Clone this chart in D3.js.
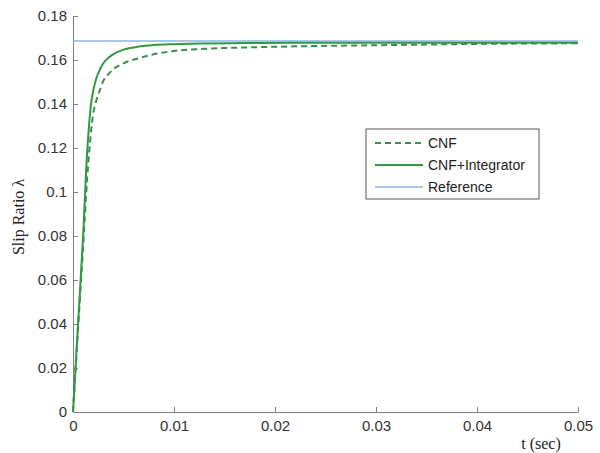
<!DOCTYPE html>
<html>
<head>
<meta charset="utf-8">
<script src="https://cdn.jsdelivr.net/npm/d3@7"></script>
<style>
  body { margin: 0; background: #fff; }
  .tick text { font-family: "Liberation Sans", Arial, sans-serif; font-size: 15px; fill: #333; }
</style>
</head>
<body>
<script>
// Slip ratio step response

const time = [0, 0.0005, 0.001, 0.0014, 0.0016, 0.0018, 0.002, 0.0023, 0.0026, 0.003, 0.0035, 0.004, 0.005, 0.0065, 0.008, 0.01, 0.013, 0.017, 0.022, 0.03, 0.04, 0.05];
const cnf = [0, 0.038, 0.075, 0.106, 0.118, 0.128, 0.1355, 0.1415, 0.1455, 0.1505, 0.1535, 0.1558, 0.1585, 0.1608, 0.1626, 0.1641, 0.1651, 0.1657, 0.1662, 0.1667, 0.1673, 0.1676];
const cnfInt = [0, 0.04, 0.08, 0.118, 0.131, 0.1405, 0.146, 0.1515, 0.155, 0.1585, 0.161, 0.1627, 0.1647, 0.1661, 0.1668, 0.1672, 0.1675, 0.1677, 0.1678, 0.1678, 0.1678, 0.1678];
const refValue = 0.1686;

const xTicks = [0, 0.01, 0.02, 0.03, 0.04, 0.05];
const yTicks = [0, 0.02, 0.04, 0.06, 0.08, 0.1, 0.12, 0.14, 0.16, 0.18];
const legendNames = ["CNF", "CNF+Integrator", "Reference"];

const width = 600, height = 453;

const x = d3.scaleLinear().domain([0, 0.05]).range([73, 578]);
const y = d3.scaleLinear().domain([0, 0.18]).range([412, 16]);

const svg = d3.select("body").append("svg")
  .attr("width", width)
  .attr("height", height);

// axes, ticks point inward
svg.append("g")
  .attr("transform", "translate(0,412)")
  .call(d3.axisBottom(x).tickValues(xTicks).tickFormat(d3.format("~g"))
    .tickSizeInner(-5).tickSizeOuter(0).tickPadding(8))
  .call(g => g.selectAll("line, path").attr("stroke", "#808080"));

svg.append("g")
  .attr("transform", "translate(73,0)")
  .call(d3.axisLeft(y).tickValues(yTicks).tickFormat(d3.format("~g"))
    .tickSizeInner(-5).tickSizeOuter(0).tickPadding(6))
  .call(g => g.selectAll("line, path").attr("stroke", "#808080"));

const line = d3.line()
  .x((d, i) => x(time[i]))
  .y(d => y(d))
  .curve(d3.curveMonotoneX);

// reference
svg.append("line")
  .attr("x1", x(0)).attr("x2", x(0.05))
  .attr("y1", y(refValue)).attr("y2", y(refValue))
  .attr("stroke", "#8db6e2")
  .attr("stroke-width", 1.5);

svg.append("path")
  .datum(cnf)
  .attr("fill", "none")
  .attr("stroke", "#3f8a52")
  .attr("stroke-width", 2)
  .attr("stroke-dasharray", "6,4")
  .attr("d", line);

svg.append("path")
  .datum(cnfInt)
  .attr("fill", "none")
  .attr("stroke", "#2f9a3e")
  .attr("stroke-width", 2)
  .attr("d", line);

// legend
const legend = svg.append("g");
legend.append("rect")
  .attr("x", 366).attr("y", 129)
  .attr("width", 173).attr("height", 70)
  .attr("fill", "#fff")
  .attr("stroke", "#555");

const styles = [
  { stroke: "#3f8a52", dash: "6,4", w: 2 },
  { stroke: "#2f9a3e", dash: null, w: 2 },
  { stroke: "#8db6e2", dash: null, w: 1.5 }
];
const rowY = [143, 165, 187];

legendNames.forEach((name, i) => {
  legend.append("line")
    .attr("x1", 375).attr("x2", 423)
    .attr("y1", rowY[i]).attr("y2", rowY[i])
    .attr("stroke", styles[i].stroke)
    .attr("stroke-width", styles[i].w)
    .attr("stroke-dasharray", styles[i].dash);
  legend.append("text")
    .attr("x", 428).attr("y", rowY[i])
    .attr("dy", "0.35em")
    .style("font-family", "'Liberation Sans', Arial, sans-serif")
    .style("font-size", "14px")
    .attr("fill", "#222")
    .text(name);
});

// axis labels
svg.append("text")
  .attr("x", 541).attr("y", 449)
  .attr("text-anchor", "middle")
  .style("font-family", "'Liberation Serif', 'Times New Roman', serif")
  .style("font-size", "16px")
  .attr("fill", "#222")
  .text("t (sec)");

svg.append("text")
  .attr("transform", "translate(24,217) rotate(-90)")
  .attr("text-anchor", "middle")
  .style("font-family", "'Liberation Serif', 'Times New Roman', serif")
  .style("font-size", "16px")
  .attr("fill", "#222")
  .text("Slip Ratio  λ");
</script>
</body>
</html>
